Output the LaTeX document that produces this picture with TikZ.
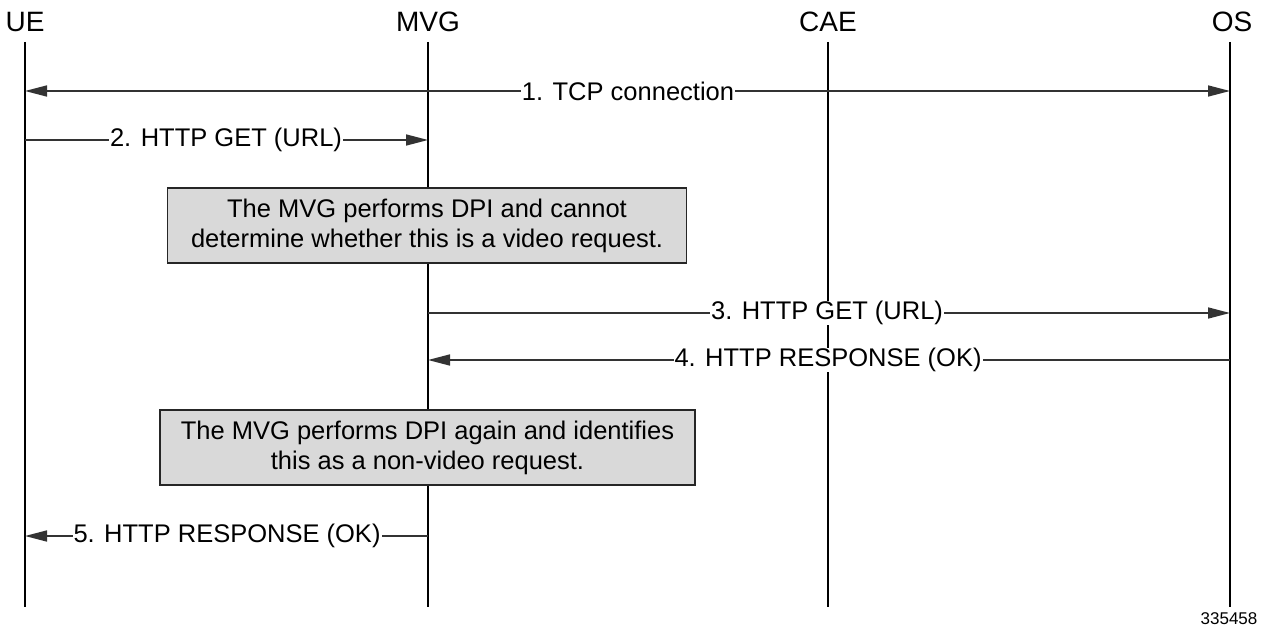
\documentclass[tikz,border=0pt]{standalone}
\usepackage{fontspec}
\setmainfont{Liberation Sans}
\usetikzlibrary{arrows.meta}
\begin{document}
\begin{tikzpicture}[x=1pt,y=-1pt,
  head/.style={font=\fontsize{28}{32}\selectfont, inner sep=0pt},
  life/.style={line width=2.8pt, black},
  msg/.style={line width=1.6pt, black!80, -{Triangle[length=22pt,width=11pt]}},
  msgline/.style={line width=1.6pt, black!80},
  lbl/.style={font=\fontsize{25.5}{29}\selectfont, fill=white, inner xsep=1pt, inner ysep=0pt, text=black},
  note/.style={draw=black!85, line width=1.8pt, fill=black!15, font=\fontsize{25.5}{30}\selectfont, align=center, inner sep=0pt},
  tag/.style={font=\fontsize{17}{20}\selectfont, inner sep=0pt}]
\useasboundingbox (0,0) rectangle (1268,628);
\fill[white] (0,0) rectangle (1268,628);
% headers
\node[head] (ue) at (25,22) {UE};
\node[head] (mvg) at (428,22) {MVG};
\node[head] (cae) at (828,22) {CAE};
\node[head] (os) at (1232,22) {OS};
% lifeline coordinates
\coordinate (ueT) at (25,42);  \coordinate (ueB) at (25,607);
\coordinate (mvT) at (428,42); \coordinate (mvB) at (428,607);
\coordinate (caT) at (828,42); \coordinate (caB) at (828,607);
\coordinate (osT) at (1230,42); \coordinate (osB) at (1230,607);
\draw[life] (ueT) -- (ueB);
\draw[life] (mvT) -- (mvB);
\draw[life] (caT) -- (caB);
\draw[life] (osT) -- (osB);
% message points
\coordinate (u1) at (25,91);  \coordinate (o1) at (1230,91);
\coordinate (u2) at (25,140); \coordinate (m2) at (428,140);
\coordinate (m3) at (428,313); \coordinate (o3) at (1230,313);
\coordinate (m4) at (428,360); \coordinate (o4) at (1230,360);
\coordinate (m5) at (428,536); \coordinate (u5) at (25,536);
% 1
\draw[msgline, {Triangle[length=22pt,width=11pt]}-{Triangle[length=22pt,width=11pt]}] (u1) -- (o1);
\node[lbl] (l1) at (628,91) {1. TCP connection};
% 2
\draw[msg] (u2) -- (m2);
\node[lbl] (l2) at (226,140) {2. HTTP GET (URL)};
% note 1
\node[note, minimum width=519pt, minimum height=75pt] (n1) at (427,225.5) {\raisebox{-3pt}{\parbox{510pt}{\centering The MVG performs DPI and cannot\\determine whether this is a video request.}}};
% 3
\draw[msg] (m3) -- (o3);
\node[lbl] (l3) at (827,313) {3. HTTP GET (URL)};
% 4
\draw[msg] (o4) -- (m4);
\node[lbl] (l4) at (828,360) {4. HTTP RESPONSE (OK)};
% note 2
\node[note, minimum width=535pt, minimum height=75pt] (n2) at (427.5,447.5) {\raisebox{-3pt}{\parbox{525pt}{\centering The MVG performs DPI again and identifies\\this as a non-video request.}}};
% 5
\draw[msg] (m5) -- (u5);
\node[lbl] (l5) at (227,536) {5. HTTP RESPONSE (OK)};
% tag
\node[tag] (t) at (1229,619) {335458};
\end{tikzpicture}
\end{document}
